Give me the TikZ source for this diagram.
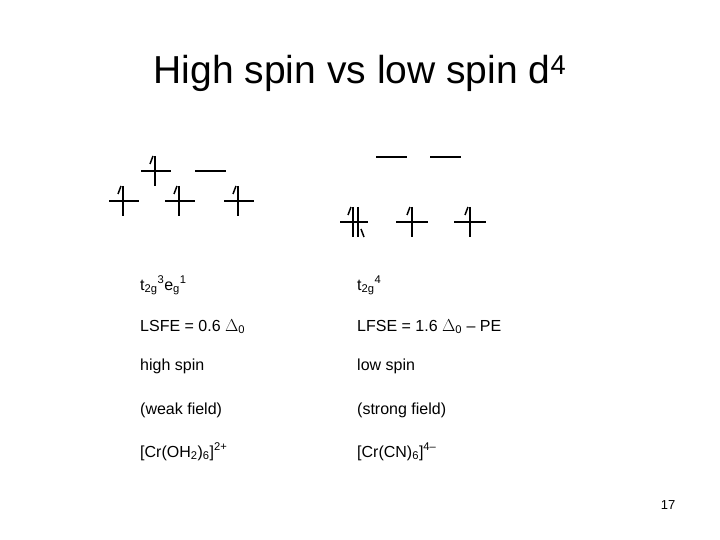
\documentclass[tikz,border=0pt]{standalone}
\usepackage{fontspec}
\setmainfont{Liberation Sans}
\begin{document}
\begin{tikzpicture}[x=1pt,y=-1pt,
  lvl/.style={line width=2pt},
  spin/.style={line width=2pt},
  txt/.style={anchor=base west,inner sep=0pt,font=\fontsize{16}{19}\selectfont}]
\useasboundingbox[fill=white] (0,0) rectangle (720,540);
\node[anchor=base,inner sep=0pt,font=\fontsize{39}{44}\selectfont] (title) at (360,84) {High spin vs low spin d\textsuperscript{4}};
% left diagram
\foreach \n/\x/\y in {a/155/171,b/123/201,c/179/201,d/238/201}{
  \coordinate (\n) at (\x,\y);
  \draw[lvl] ([xshift=-14]\n) -- ([xshift=16]\n);
  \draw[spin] ([yshift=15]\n) -- ([yshift=-15]\n);
  \draw[line width=1.5pt] ([xshift=-5,yshift=7]\n) -- ([xshift=-2,yshift=15]\n);
}
\coordinate (e) at (211,171);
\draw[lvl] ([xshift=-16]e) -- ([xshift=15]e);
% right diagram
\coordinate (f) at (391,157); \coordinate (g) at (445,157);
\draw[lvl] ([xshift=-15]f) -- ([xshift=16]f);
\draw[lvl] ([xshift=-15]g) -- ([xshift=16]g);
\coordinate (h) at (355,222);
\draw[lvl] ([xshift=-15]h) -- ([xshift=13]h);
\draw[spin] ([xshift=-2,yshift=15]h) -- ([xshift=-2,yshift=-15]h);
\draw[line width=1.5pt] ([xshift=-7,yshift=7]h) -- ([xshift=-4,yshift=15]h);
\draw[spin] ([xshift=3,yshift=15]h) -- ([xshift=3,yshift=-15]h);
\draw[line width=1.5pt] ([xshift=6,yshift=-7]h) -- ([xshift=9,yshift=-15]h);
\foreach \n/\x in {i/412,j/470}{
  \coordinate (\n) at (\x,222);
  \draw[lvl] ([xshift=-16]\n) -- ([xshift=16]\n);
  \draw[spin] ([yshift=15]\n) -- ([yshift=-15]\n);
  \draw[line width=1.5pt] ([xshift=-5,yshift=7]\n) -- ([xshift=-2,yshift=15]\n);
}
% text
\node[txt] (l1) at (140,290) {t\textsubscript{2g}\textsuperscript{3}e\textsubscript{g}\textsuperscript{1}};
\node[txt] (r1) at (357,290) {t\textsubscript{2g}\textsuperscript{4}};
\node[txt] (l2) at (140,331) {LSFE = 0.6 $\Delta$\textsubscript{0}};
\node[txt] (r2) at (357,331) {LFSE = 1.6 $\Delta$\textsubscript{0} -- PE};
\node[txt] (l3) at (140,370) {high spin};
\node[txt] (r3) at (357,370) {low spin};
\node[txt] (l4) at (140,414) {(weak field)};
\node[txt] (r4) at (357,414) {(strong field)};
\node[txt] (l5) at (140,457) {[Cr(OH\textsubscript{2})\textsubscript{6}]\textsuperscript{2+}};
\node[txt] (r5) at (357,457) {[Cr(CN)\textsubscript{6}]\textsuperscript{4--}};
\node[anchor=base,inner sep=0pt,font=\fontsize{13}{15}\selectfont] (pg) at (668,509) {17};
\end{tikzpicture}
\end{document}
